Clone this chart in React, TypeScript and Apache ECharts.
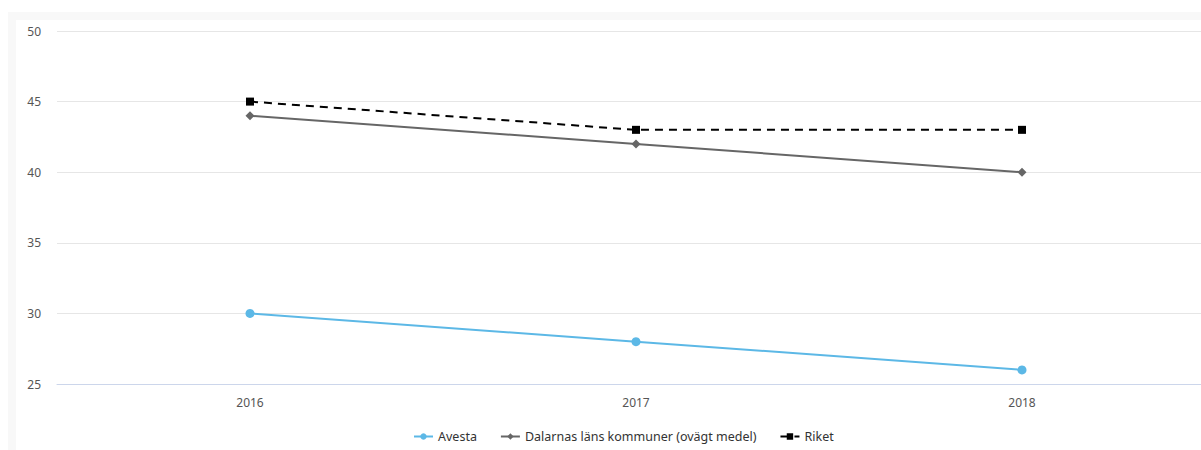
import React, { useEffect, useRef } from "react";
import * as echarts from "echarts";

const years = ["2016", "2017", "2018"];
const avesta = [30, 28, 26];
const dalarna = [44, 42, 40];
const riket = [45, 43, 43];
const seriesNames = ["Avesta", "Dalarnas läns kommuner (ovägt medel)", "Riket"];

const FONT = "'Noto Sans', sans-serif";

export default function App() {
  const ref = useRef<HTMLDivElement>(null);

  useEffect(() => {
    if (!ref.current) return;
    const chart = echarts.init(ref.current, undefined, { renderer: "svg" });
    chart.setOption({
      animation: false,
      backgroundColor: "#ffffff",
      textStyle: { fontFamily: FONT },
      grid: { left: 41, top: 11, width: 1158, height: 353, containLabel: false },
      legend: {
        left: 397,
        top: 410,
        padding: 0,
        itemGap: 23,
        itemWidth: 19,
        itemHeight: 8,
        textStyle: { fontFamily: FONT, fontSize: 12.5, color: "#333333" },
        data: seriesNames,
      },
      xAxis: {
        type: "category",
        data: years,
        boundaryGap: true,
        axisLine: { show: true, lineStyle: { color: "#ccd6eb", width: 1 } },
        axisTick: { show: false },
        axisLabel: { color: "#555555", fontSize: 12, margin: 12, fontFamily: FONT },
      },
      yAxis: {
        type: "value",
        min: 25,
        max: 50,
        interval: 5,
        axisLine: { show: false },
        axisTick: { show: false },
        axisLabel: { color: "#555555", fontSize: 12, margin: 16, fontFamily: FONT },
        splitLine: { lineStyle: { color: "#e6e6e6", width: 1 } },
      },
      series: [
        {
          name: seriesNames[0],
          type: "line",
          data: avesta,
          symbol: "circle",
          symbolSize: 9,
          itemStyle: { color: "#5cb8e6" },
          lineStyle: { color: "#5cb8e6", width: 2 },
        },
        {
          name: seriesNames[1],
          type: "line",
          data: dalarna,
          symbol: "diamond",
          symbolSize: 9,
          itemStyle: { color: "#666666" },
          lineStyle: { color: "#666666", width: 2 },
        },
        {
          name: seriesNames[2],
          type: "line",
          data: riket,
          symbol: "rect",
          symbolSize: 8,
          itemStyle: { color: "#000000" },
          lineStyle: { color: "#000000", width: 2, type: [8, 6] },
        },
      ],
    });
    return () => chart.dispose();
  }, []);

  return (
    <div
      style={{
        position: "fixed",
        left: 0,
        top: 0,
        width: 1201,
        height: 450,
        overflow: "hidden",
        background: "#ffffff",
      }}
    >
      <div
        style={{
          position: "absolute",
          left: 8,
          top: 12,
          width: 1240,
          height: 460,
          background: "#f8f8f8",
        }}
      />
      <div
        ref={ref}
        style={{ position: "absolute", left: 16, top: 20, width: 1230, height: 440 }}
      />
    </div>
  );
}
